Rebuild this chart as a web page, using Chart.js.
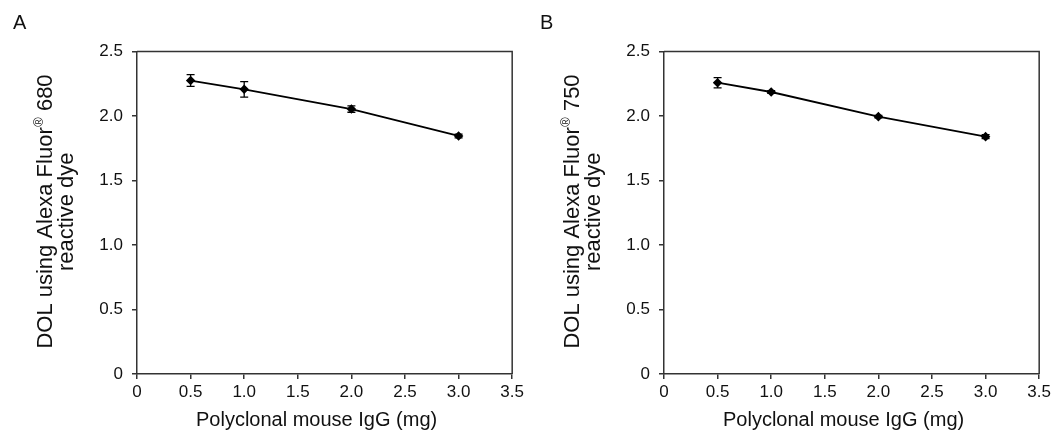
<!DOCTYPE html>
<html>
<head>
<meta charset="utf-8">
<script src="https://cdn.jsdelivr.net/npm/chart.js@4.4.1/dist/chart.umd.min.js"></script>
<style>
  body { margin: 0; background: #fff; }
  .panel { position: absolute; top: 0; width: 527px; height: 433px; }
</style>
</head>
<body>
<div class="panel" style="left:0"><canvas id="chartA" width="527" height="433"></canvas></div>
<div class="panel" style="left:527px"><canvas id="chartB" width="527" height="433"></canvas></div>
<script>
const doses = [0.5, 1, 2, 3]; // mg of polyclonal mouse IgG

// panel A: Alexa Fluor 680
const dolA = [2.275, 2.207, 2.054, 1.845];
const errA = [0.045, 0.06, 0.025, 0.015];

// panel B: Alexa Fluor 750
const dolB = [2.258, 2.186, 1.995, 1.84];
const errB = [0.04, 0.01, 0.01, 0.015];

const xTicks = [0, 0.5, 1, 1.5, 2, 2.5, 3, 3.5];
const yTicks = [0, 0.5, 1, 1.5, 2, 2.5];

const fontFamily = "'Liberation Sans', Arial, Helvetica, sans-serif";
const axisColor = "#333";

// error bars drawn through the chart's own scales
const errorBars = {
  id: "errorBars",
  afterDatasetsDraw(chart) {
    const { ctx, scales: { x, y } } = chart;
    const errs = chart.options.plugins.errorBars.errors;
    const vals = chart.data.datasets[0].data;
    ctx.save();
    ctx.strokeStyle = "#000";
    ctx.lineWidth = 1.3;
    vals.forEach((p, i) => {
      const px = x.getPixelForValue(p.x);
      const top = y.getPixelForValue(p.y + errs[i]);
      const bot = y.getPixelForValue(p.y - errs[i]);
      ctx.beginPath();
      ctx.moveTo(px, top); ctx.lineTo(px, bot);
      ctx.moveTo(px - 4, top); ctx.lineTo(px + 4, top);
      ctx.moveTo(px - 4, bot); ctx.lineTo(px + 4, bot);
      ctx.stroke();
    });
    ctx.restore();
  },
};

// top + right frame, panel letter, axis titles (y title has a superscript ®)
const decorations = {
  id: "decorations",
  afterDraw(chart) {
    const { ctx, chartArea: a } = chart;
    const opts = chart.options.plugins.decorations;
    ctx.save();
    ctx.strokeStyle = axisColor;
    ctx.lineWidth = 1.5;
    ctx.beginPath();
    ctx.moveTo(a.left, a.top);
    ctx.lineTo(a.right, a.top);
    ctx.lineTo(a.right, a.bottom);
    ctx.stroke();

    ctx.fillStyle = "#111";
    ctx.font = "20px " + fontFamily;
    ctx.textBaseline = "alphabetic";
    ctx.textAlign = "left";
    ctx.fillText(opts.letter, 13, 29);

    // x title, sits a little left of centre in the original
    ctx.textAlign = "center";
    ctx.fillText("Polyclonal mouse IgG (mg)", (a.left + a.right) / 2 - 8, 426);

    // y title
    const cy = (a.top + a.bottom) / 2 - 1;
    const main = "DOL using Alexa Fluor";
    const sup = "®";
    const tail = " " + opts.dye;
    ctx.textAlign = "left";
    ctx.translate(52, cy);
    ctx.rotate(-Math.PI / 2);
    ctx.font = "22px " + fontFamily;
    const wMain = ctx.measureText(main).width;
    const wTail = ctx.measureText(tail).width;
    ctx.font = "13px " + fontFamily;
    const wSup = ctx.measureText(sup).width;
    let sx = -(wMain + wSup + wTail) / 2;
    ctx.font = "22px " + fontFamily;
    ctx.fillText(main, sx, 0);
    sx += wMain + 0.5;
    ctx.font = "13px " + fontFamily;
    ctx.fillText(sup, sx, -9);
    sx += wSup;
    ctx.font = "22px " + fontFamily;
    ctx.fillText(tail, sx, 0);
    ctx.textAlign = "center";
    ctx.fillText("reactive dye", 0, 21);
    ctx.restore();
  },
};

function makeChart(id, values, errs, letter, dye) {
  new Chart(document.getElementById(id), {
    type: "line",
    data: {
      datasets: [{
        data: doses.map((d, i) => ({ x: d, y: values[i] })),
        borderColor: "#000",
        backgroundColor: "#000",
        borderWidth: 1.8,
        pointStyle: "rectRot",
        pointRadius: 3.5,
        tension: 0,
      }],
    },
    options: {
      responsive: false,
      devicePixelRatio: 1,
      animation: false,
      layout: { padding: { left: 0, right: 14.5, top: 51.5, bottom: 0 } },
      plugins: {
        legend: { display: false },
        tooltip: { enabled: false },
        errorBars: { errors: errs },
        decorations: { letter: letter, dye: dye },
      },
      scales: {
        x: {
          type: "linear",
          min: 0,
          max: 3.5,
          afterBuildTicks: (s) => { s.ticks = xTicks.map((v) => ({ value: v })); },
          afterFit: (s) => { s.height = 59; },
          ticks: {
            font: { size: 17, family: fontFamily },
            color: "#111",
            padding: 3,
            maxRotation: 0,
            callback: (v) => (v === 0 ? "0" : v.toFixed(1)),
          },
          grid: { drawOnChartArea: false, tickLength: 5, color: axisColor, lineWidth: 1.5 },
          border: { color: axisColor, width: 1.5 },
        },
        y: {
          min: 0,
          max: 2.5,
          afterBuildTicks: (s) => { s.ticks = yTicks.map((v) => ({ value: v })); },
          afterFit: (s) => { s.width = 137; },
          ticks: {
            font: { size: 17, family: fontFamily },
            color: "#111",
            padding: 9,
            callback: (v) => (v === 0 ? "0" : v.toFixed(1)),
          },
          grid: { drawOnChartArea: false, tickLength: 5, color: axisColor, lineWidth: 1.5 },
          border: { color: axisColor, width: 1.5 },
        },
      },
    },
    plugins: [errorBars, decorations],
  });
}

makeChart("chartA", dolA, errA, "A", "680");
makeChart("chartB", dolB, errB, "B", "750");
</script>
</body>
</html>
